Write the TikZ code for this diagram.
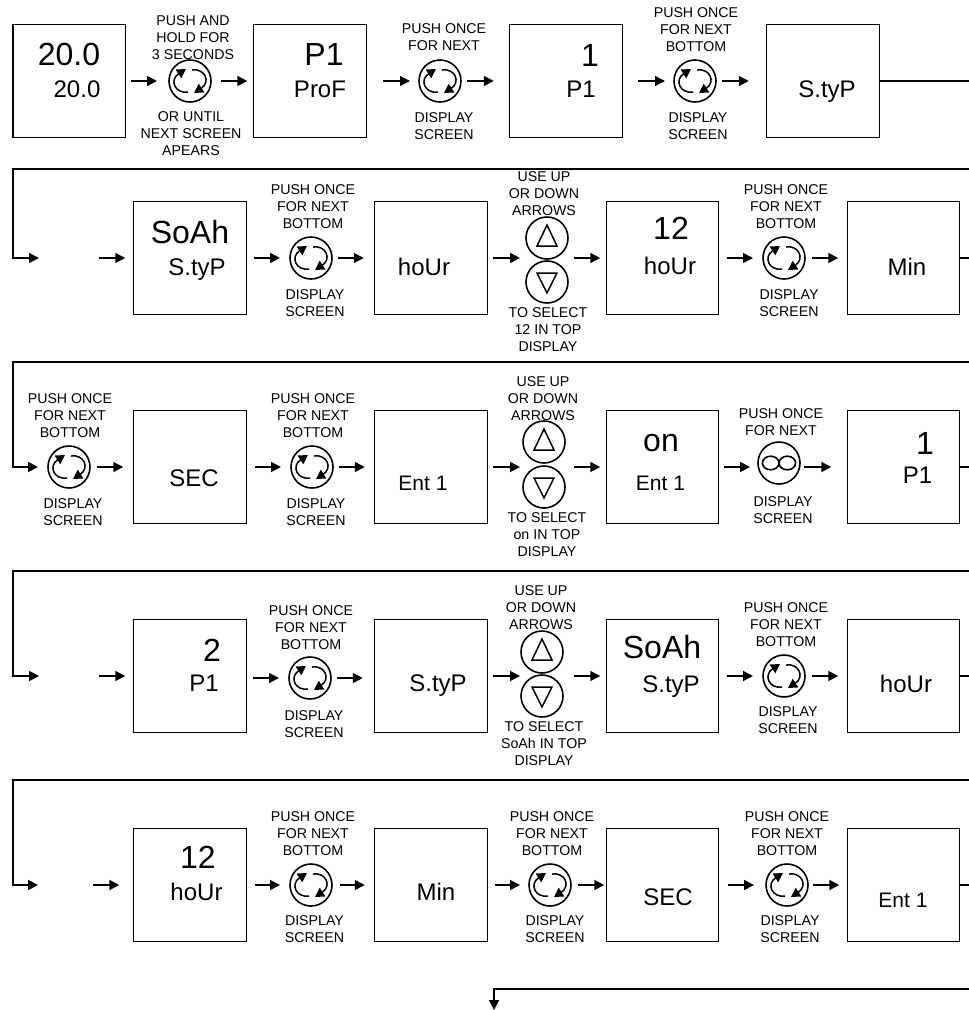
\documentclass[tikz,border=0pt]{standalone}
\usepackage{fontspec}
\setmainfont{Liberation Sans}
\usetikzlibrary{arrows.meta}

\tikzset{
  screen/.style={draw, line width=1.2pt, minimum size=112.5pt, inner sep=0pt, outer sep=0pt},
  knob/.style={draw, circle, line width=1.6pt, minimum size=42pt, inner sep=0pt, outer sep=0pt},
  hint/.style={align=center, inner sep=0pt, outer sep=0pt, yshift=-1pt, font=\fontsize{14.2}{17}\selectfont},
  topval/.style={inner sep=0pt, text height=23pt, text depth=0pt, font=\fontsize{32}{34}\selectfont},
  botval/.style={inner sep=0pt, text height=17pt, text depth=0pt, font=\fontsize{24}{26}\selectfont},
  entval/.style={inner sep=0pt, text height=15pt, text depth=0pt, font=\fontsize{21}{23}\selectfont},
  flow/.style={line width=1.5pt, -{Triangle[length=10pt,width=10pt]}},
  rail/.style={line width=1.8pt, -{Triangle[length=10pt,width=10pt]}},
  cyc/.pic={
    \draw[line width=1.5pt, -{Triangle[length=9pt,width=10pt]}] (-2,11) .. controls (-15,13) and (-21,-1) .. (-4,-12);
    \draw[line width=1.5pt, -{Triangle[length=9pt,width=10pt]}] (2,-11) .. controls (15,-13) and (21,1) .. (4,12);
  },
  loops/.pic={
    \draw[line width=1.6pt] (-8.3,0) ellipse (8.3 and 6.8);
    \draw[line width=1.6pt] (8.3,0) ellipse (8.3 and 6.8);
  },
  upsign/.pic={\draw[line width=1.5pt, line join=miter] (-10,8) -- (10,8) -- (0,-13) -- cycle;},
  downsign/.pic={\draw[line width=1.5pt, line join=miter] (-10,-9) -- (10,-9) -- (0,11) -- cycle;},
}

\begin{document}
\begin{tikzpicture}[x=1pt, y=-1pt]

  %% ==== row 1 ====
  \node[screen] (b11) at (69.25,81) {};
  \node[screen] (b12) at (310,81) {};
  \node[screen] (b13) at (566,81) {};
  \node[screen] (b14) at (823,81) {};
  \node[topval] (t11) at (69,53.5) {20.0};
  \node[botval] (v11) at (77,89) {20.0};
  \node[topval] (t12) at (324,53.5) {P1};
  \node[botval] (v12) at (320,89) {ProF};
  \node[topval] (t13) at (590,55) {1};
  \node[botval] (v13) at (581,89) {P1};
  \node[botval] (v14) at (827,89) {S.tyP};
  \node[knob] (k11) at (190,81) {};
  \node[knob] (k12) at (440,81) {};
  \node[knob] (k13) at (695,81) {};
  \pic at (k11) {cyc};
  \pic at (k12) {cyc};
  \pic at (k13) {cyc};
  \node[hint] (h11) at (193,37) {PUSH AND\\HOLD FOR\\3 SECONDS};
  \node[hint] (d11) at (191,133) {OR UNTIL\\NEXT SCREEN\\APEARS};
  \node[hint] (h12) at (444,36.5) {PUSH ONCE\\FOR NEXT};
  \node[hint] (d12) at (444,125.5) {DISPLAY\\SCREEN};
  \node[hint] (h13) at (696,29) {PUSH ONCE\\FOR NEXT\\BOTTOM};
  \node[hint] (d13) at (698,125.5) {DISPLAY\\SCREEN};
  \coordinate (x1) at (969,81);
  \draw[flow, shorten <=5pt, shorten >=12pt] (b11) -- (k11);
  \draw[flow, shorten <=10pt, shorten >=6.5pt] (k11) -- (b12);
  \draw[flow, shorten <=17pt, shorten >=9pt] (b12.east) -- (k12.west);
  \draw[flow, shorten <=6pt, shorten >=16pt] (k12.east) -- (b13.west);
  \draw[flow, shorten <=15.5pt, shorten >=9pt] (b13.east) -- (k13.west);
  \draw[flow, shorten <=6pt, shorten >=18pt] (k13.east) -- (b14.west);
  \draw[line width=1.5pt] (b14.east) -- (x1);

  %% ==== row 2 ====
  \coordinate (r2) at (969,169);
  \coordinate (l2) at (13,258);
  \coordinate (e2) at (39,258);
  \coordinate (g2) at (99,258);
  \coordinate (x2) at (969,258);
  \node[screen] (b21) at (190,258) {};
  \node[screen] (b22) at (431,258) {};
  \node[screen] (b23) at (662.5,258) {};
  \node[screen] (b24) at (903.5,258) {};
  \node[topval] (t21) at (190,232) {SoAh};
  \node[botval] (v21) at (197,267) {S.tyP};
  \node[botval] (v22) at (424,267) {hoUr};
  \node[topval] (t23) at (671,228) {12};
  \node[botval] (v23) at (670,266) {hoUr};
  \node[botval] (v24) at (907,267) {Min};
  \node[knob] (k21) at (311,258) {};
  \node[knob] (up2) at (547,238) {};
  \node[knob] (dn2) at (547,282) {};
  \node[knob] (k23) at (784,258) {};
  \pic at (k21) {cyc};
  \pic at (up2) {upsign};
  \pic at (dn2) {downsign};
  \pic at (k23) {cyc};
  \node[hint] (h21) at (313,206) {PUSH ONCE\\FOR NEXT\\BOTTOM};
  \node[hint] (d21) at (315,302) {DISPLAY\\SCREEN};
  \node[hint] (h22) at (544,193) {USE UP\\OR DOWN\\ARROWS};
  \node[hint] (d22) at (548,329) {TO SELECT\\12 IN TOP\\DISPLAY};
  \node[hint] (h23) at (786,206) {PUSH ONCE\\FOR NEXT\\BOTTOM};
  \node[hint] (d23) at (789,302) {DISPLAY\\SCREEN};
  \draw[rail] (r2) -| (l2) -- (e2);
  \draw[flow, shorten >=8.5pt] (g2) -- (b21.west);
  \draw[flow, shorten <=8pt, shorten >=10pt] (b21.east) -- (k21.west);
  \draw[flow, shorten <=6pt, shorten >=11pt] (k21.east) -- (b22.west);
  \draw[flow, shorten <=5.5pt, shorten >=6pt] (b22.east) -- (up2.west |- b22);
  \draw[flow, shorten <=6pt, shorten >=6pt] (up2.east |- b23) -- (b23.west);
  \draw[flow, shorten <=8.5pt, shorten >=10pt] (b23.east) -- (k23.west);
  \draw[flow, shorten <=7pt, shorten >=9pt] (k23.east) -- (b24.west);
  \draw[line width=1.5pt] (b24.east) -- (x2);

  %% ==== row 3 ====
  \coordinate (r3) at (969,362);
  \coordinate (l3) at (13,467);
  \coordinate (x3) at (969,467);
  \node[screen] (b31) at (190,467) {};
  \node[screen] (b32) at (431,467) {};
  \node[screen] (b33) at (662.5,467) {};
  \node[screen] (b34) at (903.5,467) {};
  \node[botval] (v31) at (194,478) {SEC};
  \node[entval] (v32) at (423,483) {Ent 1};
  \node[topval] (t33) at (661,439.5) {on};
  \node[entval] (v33) at (660.5,483) {Ent 1};
  \node[topval] (t34) at (925,443) {1};
  \node[botval] (v34) at (917.5,475) {P1};
  \node[knob] (k31) at (69,467) {};
  \node[knob] (k32) at (312,467) {};
  \node[knob] (up3) at (544,442) {};
  \node[knob] (dn3) at (544,487) {};
  \node[knob] (k34) at (779,463) {};
  \pic at (k31) {cyc};
  \pic at (k32) {cyc};
  \pic at (up3) {upsign};
  \pic at (dn3) {downsign};
  \pic at (k34) {loops};
  \node[hint] (h31) at (70,415) {PUSH ONCE\\FOR NEXT\\BOTTOM};
  \node[hint] (d31) at (73,511) {DISPLAY\\SCREEN};
  \node[hint] (h32) at (313,415) {PUSH ONCE\\FOR NEXT\\BOTTOM};
  \node[hint] (d32) at (316,511) {DISPLAY\\SCREEN};
  \node[hint] (h33) at (543,398) {USE UP\\OR DOWN\\ARROWS};
  \node[hint] (d33) at (547,534) {TO SELECT\\on IN TOP\\DISPLAY};
  \node[hint] (h34) at (781,421.5) {PUSH ONCE\\FOR NEXT};
  \node[hint] (d34) at (783,509.5) {DISPLAY\\SCREEN};
  \draw[rail, shorten >=10pt] (r3) -| (l3) -- (k31.west);
  \draw[flow, shorten <=7pt, shorten >=10.5pt] (k31.east) -- (b31.west);
  \draw[flow, shorten <=9pt, shorten >=10pt] (b31.east) -- (k32.west);
  \draw[flow, shorten <=6pt, shorten >=10pt] (k32.east) -- (b32.west);
  \draw[flow, shorten <=5.5pt, shorten >=3pt] (b32.east) -- (up3.west |- b32);
  \draw[flow, shorten <=9pt, shorten >=6pt] (up3.east |- b33) -- (b33.west);
  \draw[flow, shorten <=5.5pt, shorten >=8pt] (b33.east) -- (k34.west |- b33);
  \draw[flow, shorten <=4pt, shorten >=16pt] (k34.east |- b34) -- (b34.west);
  \draw[line width=1.5pt] (b34.east) -- (x3);

  %% ==== row 4 ====
  \coordinate (r4) at (969,571);
  \coordinate (l4) at (13,676);
  \coordinate (e4) at (39,676);
  \coordinate (g4) at (99,676);
  \coordinate (x4) at (969,676);
  \node[screen] (b41) at (190,676) {};
  \node[screen] (b42) at (431,676) {};
  \node[screen] (b43) at (662.5,676) {};
  \node[screen] (b44) at (903.5,676) {};
  \node[topval] (t41) at (212,650) {2};
  \node[botval] (v41) at (204,683) {P1};
  \node[botval] (v42) at (438,683) {S.tyP};
  \node[topval] (t43) at (662,647) {SoAh};
  \node[botval] (v43) at (671,684) {S.tyP};
  \node[botval] (v44) at (906,684) {hoUr};
  \node[knob] (k41) at (310,678) {};
  \node[knob] (up4) at (542,652) {};
  \node[knob] (dn4) at (542,696) {};
  \node[knob] (k43) at (784,676) {};
  \pic at (k41) {cyc};
  \pic at (up4) {upsign};
  \pic at (dn4) {downsign};
  \pic at (k43) {cyc};
  \node[hint] (h41) at (311,627) {PUSH ONCE\\FOR NEXT\\BOTTOM};
  \node[hint] (d41) at (314,723) {DISPLAY\\SCREEN};
  \node[hint] (h42) at (541,607) {USE UP\\OR DOWN\\ARROWS};
  \node[hint] (d42) at (544,743) {TO SELECT\\SoAh IN TOP\\DISPLAY};
  \node[hint] (h43) at (786,624) {PUSH ONCE\\FOR NEXT\\BOTTOM};
  \node[hint] (d43) at (788,719.5) {DISPLAY\\SCREEN};
  \draw[rail] (r4) -| (l4) -- (e4);
  \draw[flow, shorten >=8.5pt] (g4) -- (b41.west);
  \draw[flow, shorten <=7pt, shorten >=10pt] (b41.east |- k41) -- (k41.west);
  \draw[flow, shorten <=6pt, shorten >=12pt] (k41.east) -- (b42.west |- k41);
  \draw[flow, shorten <=5.5pt, shorten >=1pt] (b42.east) -- (up4.west |- b42);
  \draw[flow, shorten <=11pt, shorten >=6pt] (up4.east |- b43) -- (b43.west);
  \draw[flow, shorten <=8.5pt, shorten >=10pt] (b43.east) -- (k43.west);
  \draw[flow, shorten <=7pt, shorten >=9pt] (k43.east) -- (b44.west);
  \draw[line width=1.5pt] (b44.east) -- (x4);

  %% ==== row 5 ====
  \coordinate (r5) at (969,780);
  \coordinate (l5) at (13,885);
  \coordinate (e5) at (38,885);
  \coordinate (g5) at (93,885);
  \coordinate (x5) at (969,885);
  \node[screen] (b51) at (190,885) {};
  \node[screen] (b52) at (431,885) {};
  \node[screen] (b53) at (662.5,885) {};
  \node[screen] (b54) at (903.5,885) {};
  \node[topval] (t51) at (198,857) {12};
  \node[botval] (v51) at (196.5,892) {hoUr};
  \node[botval] (v52) at (436,892) {Min};
  \node[botval] (v53) at (668,897) {SEC};
  \node[entval] (v54) at (903,900) {Ent 1};
  \node[knob] (k51) at (311,885) {};
  \node[knob] (k52) at (550,885) {};
  \node[knob] (k53) at (787,885) {};
  \pic at (k51) {cyc};
  \pic at (k52) {cyc};
  \pic at (k53) {cyc};
  \node[hint] (h51) at (313,833) {PUSH ONCE\\FOR NEXT\\BOTTOM};
  \node[hint] (d51) at (314.5,928.5) {DISPLAY\\SCREEN};
  \node[hint] (h52) at (552,833) {PUSH ONCE\\FOR NEXT\\BOTTOM};
  \node[hint] (d52) at (555,928.5) {DISPLAY\\SCREEN};
  \node[hint] (h53) at (787,833) {PUSH ONCE\\FOR NEXT\\BOTTOM};
  \node[hint] (d53) at (790,928.5) {DISPLAY\\SCREEN};
  \draw[rail] (r5) -| (l5) -- (e5);
  \draw[flow, shorten >=14.5pt] (g5) -- (b51.west);
  \draw[flow, shorten <=8.5pt, shorten >=10pt] (b51.east) -- (k51.west);
  \draw[flow, shorten <=8pt, shorten >=10pt] (k51.east) -- (b52.west);
  \draw[flow, shorten <=7.5pt, shorten >=9pt] (b52.east) -- (k52.west);
  \draw[flow, shorten <=7pt, shorten >=2pt] (k52.east) -- (b53.west);
  \draw[flow, shorten <=9pt, shorten >=12pt] (b53.east) -- (k53.west);
  \draw[flow, shorten <=5pt, shorten >=8pt] (k53.east) -- (b54.west);
  \draw[line width=1.5pt] (b54.east) -- (x5);

  %% ==== way out ====
  \coordinate (r6) at (969,989);
  \coordinate (e6) at (494,1010);
  \draw[rail] (r6) -| (e6);

  \pgfresetboundingbox
  \path[use as bounding box] (0,0) rectangle (969,1010);
\end{tikzpicture}
\end{document}
